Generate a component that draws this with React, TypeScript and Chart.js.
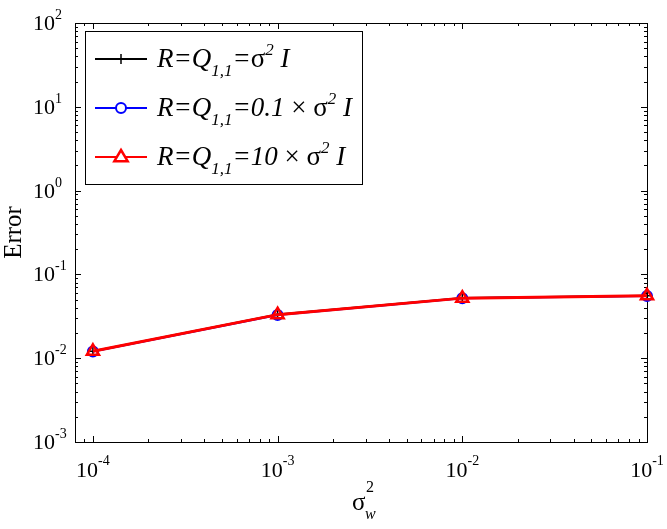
import React, { useEffect, useRef } from 'react';
import { Chart, registerables } from 'chart.js';

Chart.register(...registerables);

// ---- data ----
const sigmaW2 = [1e-4, 1e-3, 1e-2, 1e-1];
const errSigma = [0.0121, 0.0332, 0.0522, 0.0556];
const errTenth = [0.0120, 0.0328, 0.0518, 0.0553];
const errTen = [0.0121, 0.0331, 0.0521, 0.0556];
const xTickExponents = [-4, -3, -2, -1];
const yTickExponents = [-3, -2, -1, 0, 1, 2];
const xMin = 8e-5;
const xMax = 1e-1;
const yMin = 1e-3;
const yMax = 1e2;
const yTitle = 'Error';

const SERIF = "'Liberation Serif','Times New Roman','DejaVu Serif',serif";

type Seg = { t: string; size: number; dy: number; italic?: boolean };

const legendRows: Seg[][] = [
  [
    { t: 'R=Q', size: 27, dy: 0, italic: true },
    { t: '1,1', size: 17, dy: 9, italic: true },
    { t: '=', size: 27, dy: 0, italic: true },
    { t: 'σ', size: 27, dy: 0 },
    { t: '2', size: 17, dy: -12, italic: true },
    { t: ' I', size: 27, dy: 0, italic: true },
  ],
  [
    { t: 'R=Q', size: 27, dy: 0, italic: true },
    { t: '1,1', size: 17, dy: 9, italic: true },
    { t: '=0.1 ', size: 27, dy: 0, italic: true },
    { t: '× σ', size: 27, dy: 0 },
    { t: '2', size: 17, dy: -12, italic: true },
    { t: ' I', size: 27, dy: 0, italic: true },
  ],
  [
    { t: 'R=Q', size: 27, dy: 0, italic: true },
    { t: '1,1', size: 17, dy: 9, italic: true },
    { t: '=10 ', size: 27, dy: 0, italic: true },
    { t: '× σ', size: 27, dy: 0 },
    { t: '2', size: 17, dy: -12, italic: true },
    { t: ' I', size: 27, dy: 0, italic: true },
  ],
];

function fontOf(s: Seg) {
  return `${s.italic ? 'italic ' : ''}${s.size}px ${SERIF}`;
}

function drawRich(ctx: CanvasRenderingContext2D, segs: Seg[], x: number, y: number, align: 'left' | 'center' | 'right') {
  let total = 0;
  const widths = segs.map((s) => {
    ctx.font = fontOf(s);
    const w = ctx.measureText(s.t).width;
    total += w;
    return w;
  });
  let cx = align === 'left' ? x : align === 'center' ? x - total / 2 : x - total;
  ctx.textAlign = 'left';
  ctx.textBaseline = 'alphabetic';
  segs.forEach((s, i) => {
    ctx.font = fontOf(s);
    ctx.fillText(s.t, cx, y + s.dy);
    cx += widths[i];
  });
}

function drawMarker(ctx: CanvasRenderingContext2D, style: string, x: number, y: number, r: number, color: string, lw: number) {
  ctx.save();
  ctx.strokeStyle = color;
  ctx.lineWidth = lw;
  ctx.beginPath();
  if (style === 'cross') {
    ctx.moveTo(x - r, y);
    ctx.lineTo(x + r, y);
    ctx.moveTo(x, y - r);
    ctx.lineTo(x, y + r);
  } else if (style === 'circle') {
    ctx.fillStyle = '#fff';
    ctx.arc(x, y, r, 0, Math.PI * 2);
    ctx.fill();
  } else if (style === 'triangle') {
    ctx.fillStyle = '#fff';
    ctx.moveTo(x, y - r);
    ctx.lineTo(x + r * 0.95, y + r * 0.6);
    ctx.lineTo(x - r * 0.95, y + r * 0.6);
    ctx.closePath();
    ctx.fill();
  }
  ctx.stroke();
  ctx.restore();
}

const framePlugin = {
  id: 'matlabFrame',
  beforeDatasetsDraw(chart: any) {
    const { ctx, chartArea: a, scales } = chart;
    const xs = scales.x;
    const ys = scales.y;
    ctx.save();
    ctx.strokeStyle = '#000';
    ctx.lineWidth = 1;
    ctx.strokeRect(Math.round(a.left) + 0.5, Math.round(a.top) + 0.5, Math.round(a.right - a.left), Math.round(a.bottom - a.top));
    ctx.beginPath();
    for (let d = -5; d <= -1; d++) {
      for (let k = 1; k <= 9; k++) {
        const v = k * Math.pow(10, d);
        if (v < xMin * 0.999 || v > xMax * 1.001) continue;
        const px = Math.round(xs.getPixelForValue(v)) + 0.5;
        const len = k === 1 ? 6 : 3;
        ctx.moveTo(px, a.bottom);
        ctx.lineTo(px, a.bottom - len);
        ctx.moveTo(px, a.top);
        ctx.lineTo(px, a.top + len);
      }
    }
    for (let d = -3; d <= 2; d++) {
      for (let k = 1; k <= 9; k++) {
        const v = k * Math.pow(10, d);
        if (v < yMin * 0.999 || v > yMax * 1.001) continue;
        const py = Math.round(ys.getPixelForValue(v)) + 0.5;
        const len = k === 1 ? 6 : 3;
        ctx.moveTo(a.left, py);
        ctx.lineTo(a.left + len, py);
        ctx.moveTo(a.right, py);
        ctx.lineTo(a.right - len, py);
      }
    }
    ctx.stroke();

    ctx.fillStyle = '#000';
    yTickExponents.forEach((e) => {
      const py = ys.getPixelForValue(Math.pow(10, e));
      drawRich(ctx, [
        { t: '10', size: 22, dy: 7 },
        { t: String(e), size: 14, dy: -4 },
      ], a.left - 42, py, 'left');
    });
    xTickExponents.forEach((e) => {
      const px = xs.getPixelForValue(Math.pow(10, e));
      drawRich(ctx, [
        { t: '10', size: 22, dy: 0 },
        { t: String(e), size: 14, dy: -12 },
      ], px, a.bottom + 35, 'center');
    });

    ctx.save();
    ctx.translate(21, (a.top + a.bottom) / 2);
    ctx.rotate(-Math.PI / 2);
    ctx.font = `25px ${SERIF}`;
    ctx.textAlign = 'center';
    ctx.textBaseline = 'alphabetic';
    ctx.fillText(yTitle, 0, 0);
    ctx.restore();

    const cx = (a.left + a.right) / 2;
    ctx.font = `25px ${SERIF}`;
    ctx.textAlign = 'left';
    ctx.fillText('σ', cx - 9, a.bottom + 68);
    ctx.font = `16px ${SERIF}`;
    ctx.fillText('2', cx + 5, a.bottom + 50);
    ctx.font = `italic 16px ${SERIF}`;
    ctx.fillText('w', cx + 4, a.bottom + 77);
    ctx.restore();
  },
  afterDraw(chart: any) {
    const { ctx } = chart;
    ctx.save();
    const bx = 85.5, by = 31.5, bw = 277, bh = 153;
    ctx.fillStyle = '#fff';
    ctx.fillRect(bx, by, bw, bh);
    ctx.strokeStyle = '#000';
    ctx.lineWidth = 1;
    ctx.strokeRect(bx, by, bw, bh);
    const rowY = [59, 108, 157];
    chart.data.datasets.forEach((ds: any, i: number) => {
      const y = rowY[i];
      ctx.strokeStyle = ds.borderColor;
      ctx.lineWidth = 2;
      ctx.beginPath();
      ctx.moveTo(95, y);
      ctx.lineTo(147, y);
      ctx.stroke();
      drawMarker(ctx, ds.pointStyle, 121, y, ds.pointRadius, ds.borderColor, ds.pointBorderWidth);
      ctx.fillStyle = '#000';
      drawRich(ctx, legendRows[i], 157, y + 8, 'left');
    });
    ctx.restore();
  },
};

export default function App() {
  const ref = useRef<HTMLCanvasElement | null>(null);
  useEffect(() => {
    if (!ref.current) return;
    const mk = (vals: number[]) => sigmaW2.map((x, i) => ({ x, y: vals[i] }));
    const chart = new Chart(ref.current, {
      type: 'line',
      data: {
        datasets: [
          {
            label: 'R=Q11=σ2 I',
            data: mk(errSigma),
            borderColor: '#000000',
            backgroundColor: '#000000',
            borderWidth: 2,
            pointStyle: 'cross',
            pointRadius: 5,
            pointBorderWidth: 1.5,
            order: 3,
            clip: false,
          } as any,
          {
            label: 'R=Q11=0.1×σ2 I',
            data: mk(errTenth),
            borderColor: '#0000ff',
            backgroundColor: 'rgba(0,0,0,0)',
            borderWidth: 2,
            pointStyle: 'circle',
            pointRadius: 5,
            pointBorderWidth: 2,
            order: 2,
            clip: false,
          } as any,
          {
            label: 'R=Q11=10×σ2 I',
            data: mk(errTen),
            borderColor: '#ff0000',
            backgroundColor: 'rgba(0,0,0,0)',
            borderWidth: 3,
            pointStyle: 'triangle',
            pointRadius: 7,
            pointBorderWidth: 2.5,
            order: 1,
            clip: false,
          } as any,
        ],
      },
      options: {
        animation: false,
        responsive: false,
        events: [],
        layout: { padding: { left: 0, right: 20, top: 23, bottom: 0 } },
        plugins: { legend: { display: false }, tooltip: { enabled: false } },
        elements: { line: { tension: 0 } },
        scales: {
          x: {
            type: 'logarithmic',
            min: xMin,
            max: xMax,
            ticks: { display: false },
            grid: { display: false },
            border: { display: false },
            afterFit: (s: any) => { s.height = 87; },
          },
          y: {
            type: 'logarithmic',
            min: yMin,
            max: yMax,
            ticks: { display: false },
            grid: { display: false },
            border: { display: false },
            afterFit: (s: any) => { s.width = 75; },
          },
        },
      },
      plugins: [framePlugin],
    });
    return () => chart.destroy();
  }, []);
  return (
    <div style={{ position: 'absolute', left: 0, top: 0, width: 667, height: 529, background: '#fff' }}>
      <canvas ref={ref} width={667} height={529} style={{ display: 'block' }} />
    </div>
  );
}
